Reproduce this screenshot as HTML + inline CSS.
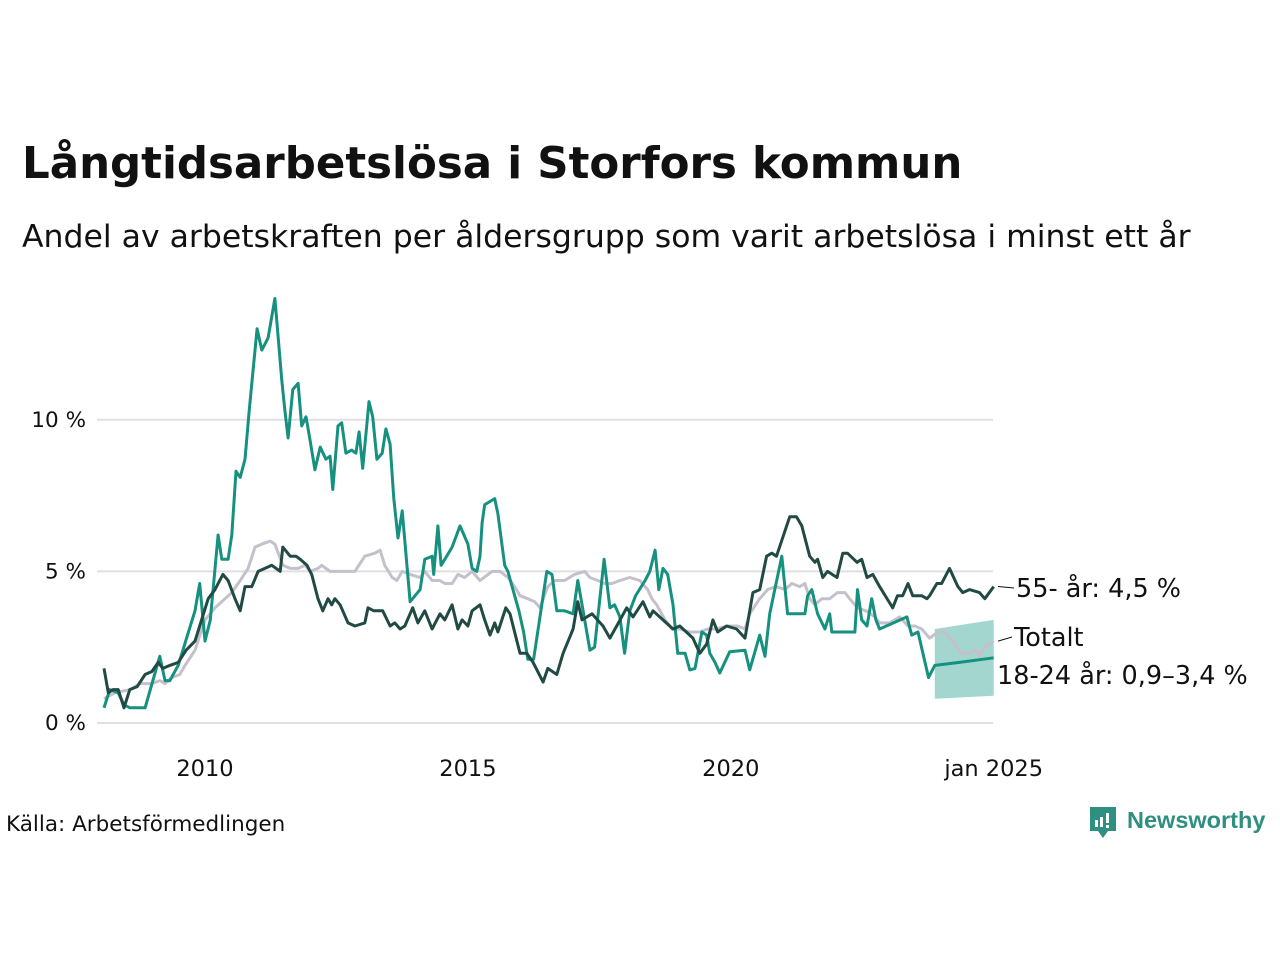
<!DOCTYPE html>
<html><head><meta charset="utf-8"><style>
body{margin:0;background:#fff;width:1280px;height:960px;overflow:hidden;font-family:"DejaVu Sans","Liberation Sans",sans-serif;}
svg{position:absolute;left:0;top:0}
</style></head><body>
<svg id="chart" width="1280" height="960">
<text x="22" y="178" font-size="43.5" font-weight="bold" fill="#111">Långtidsarbetslösa i Storfors kommun</text>
<text x="22" y="247" font-size="31.5" fill="#111">Andel av arbetskraften per åldersgrupp som varit arbetslösa i minst ett år</text>
<text x="6" y="831" font-size="21.5" fill="#111">Källa: Arbetsförmedlingen</text>
<g>
<path d="M1090 807h26v24h-8l-5 7-5-7h-8z" fill="#2f8f80"/>
<rect x="1095" y="820" width="3" height="7" fill="#fff"/><rect x="1100" y="817" width="3" height="10" fill="#fff"/><rect x="1106" y="813" width="3" height="10" fill="#fff"/><rect x="1106" y="825" width="3" height="3" fill="#fff"/>
<text x="1127" y="828" font-size="23.5" font-weight="bold" fill="#2f8f80" font-family="Liberation Sans, sans-serif">Newsworthy</text>
</g>
<g id="plot"></g>
</svg>
<script>
const ticksY=[0,5,10];
const tickYLabels=["0 %","5 %","10 %"];
const ticksX=[2010,2015,2020,2025];
const tickXLabels=["2010","2015","2020","jan 2025"];
const tealDates=[2008.08,2008.19,2008.35,2008.46,2008.57,2008.86,2009.14,2009.24,2009.33,2009.49,2009.81,2009.90,2010.00,2010.10,2010.25,2010.32,2010.44,2010.51,2010.59,2010.67,2010.76,2010.84,2010.89,2010.99,2011.08,2011.20,2011.33,2011.46,2011.52,2011.58,2011.67,2011.77,2011.84,2011.92,2012.00,2012.09,2012.19,2012.30,2012.38,2012.43,2012.53,2012.60,2012.68,2012.79,2012.87,2012.93,2013.00,2013.12,2013.19,2013.27,2013.37,2013.44,2013.52,2013.59,2013.67,2013.75,2013.90,2014.09,2014.18,2014.32,2014.35,2014.43,2014.49,2014.56,2014.70,2014.85,2015.00,2015.08,2015.17,2015.23,2015.27,2015.32,2015.51,2015.57,2015.70,2015.76,2015.84,2015.97,2016.06,2016.14,2016.25,2016.50,2016.60,2016.69,2016.84,2017.00,2017.09,2017.19,2017.32,2017.41,2017.59,2017.70,2017.79,2017.89,2017.98,2018.08,2018.19,2018.37,2018.46,2018.56,2018.63,2018.71,2018.80,2018.90,2018.99,2019.13,2019.22,2019.32,2019.45,2019.54,2019.60,2019.70,2019.79,2019.98,2020.27,2020.36,2020.55,2020.65,2020.74,2020.97,2021.08,2021.31,2021.41,2021.46,2021.54,2021.65,2021.79,2021.88,2021.92,2022.07,2022.36,2022.41,2022.49,2022.59,2022.68,2022.76,2022.83,2023.35,2023.44,2023.56,2023.76,2023.88,2024.35,2025.00];
const tealValues=[0.5,1.1,1.0,0.6,0.5,0.5,2.2,1.4,1.4,1.9,3.7,4.6,2.7,3.4,6.2,5.4,5.4,6.2,8.3,8.1,8.7,10.3,11.2,13.0,12.3,12.7,14.0,11.3,10.3,9.4,11.0,11.2,9.8,10.1,9.3,8.35,9.1,8.7,8.8,7.7,9.8,9.9,8.9,9.0,8.9,9.6,8.4,10.6,10.1,8.7,8.9,9.7,9.2,7.4,6.1,7.0,4.0,4.4,5.4,5.5,4.9,6.5,5.2,5.4,5.8,6.5,5.9,5.1,5.0,5.5,6.6,7.2,7.4,6.9,5.2,5.0,4.5,3.7,3.0,2.1,2.1,5.0,4.9,3.7,3.7,3.6,4.7,3.7,2.4,2.5,5.4,3.8,3.9,3.5,2.3,3.7,4.2,4.7,5.0,5.7,4.4,5.1,4.9,3.9,2.3,2.3,1.75,1.8,3.0,2.9,2.3,2.0,1.65,2.35,2.4,1.75,2.9,2.2,3.6,5.5,3.6,3.6,3.6,4.2,4.4,3.6,3.1,3.6,3.0,3.0,3.0,4.4,3.4,3.2,4.1,3.4,3.1,3.5,2.9,3.0,1.5,1.9,2.0,2.15];
const bandDates=[2023.88,2025.0];
const bandLower=[0.8,0.9];
const bandUpper=[3.1,3.4];
const darkDates=[2008.08,2008.16,2008.25,2008.35,2008.46,2008.57,2008.71,2008.86,2008.99,2009.11,2009.20,2009.33,2009.49,2009.64,2009.81,2009.90,2010.06,2010.19,2010.34,2010.44,2010.57,2010.67,2010.76,2010.89,2011.01,2011.14,2011.27,2011.43,2011.48,2011.62,2011.73,2011.81,2011.94,2012.03,2012.15,2012.24,2012.34,2012.41,2012.47,2012.57,2012.72,2012.85,2013.04,2013.10,2013.21,2013.38,2013.52,2013.61,2013.71,2013.80,2013.95,2014.05,2014.18,2014.32,2014.47,2014.56,2014.70,2014.81,2014.89,2015.00,2015.08,2015.23,2015.32,2015.42,2015.51,2015.57,2015.72,2015.80,2015.99,2016.12,2016.24,2016.43,2016.52,2016.69,2016.81,2017.00,2017.09,2017.17,2017.36,2017.57,2017.70,2017.83,2018.02,2018.14,2018.33,2018.46,2018.52,2018.71,2018.90,2019.03,2019.28,2019.41,2019.54,2019.66,2019.75,2019.92,2020.11,2020.27,2020.42,2020.55,2020.68,2020.78,2020.87,2021.12,2021.25,2021.35,2021.50,2021.60,2021.65,2021.75,2021.84,2022.02,2022.13,2022.22,2022.40,2022.49,2022.59,2022.70,2022.83,2023.08,2023.17,2023.27,2023.37,2023.46,2023.63,2023.73,2023.78,2023.92,2024.01,2024.16,2024.32,2024.41,2024.54,2024.73,2024.83,2025.00];
const darkValues=[1.8,1.0,1.1,1.1,0.5,1.1,1.2,1.6,1.7,2.0,1.8,1.9,2.0,2.4,2.7,3.2,4.1,4.4,4.9,4.7,4.1,3.7,4.5,4.5,5.0,5.1,5.2,5.0,5.8,5.5,5.5,5.4,5.2,4.9,4.1,3.7,4.1,3.9,4.1,3.9,3.3,3.2,3.3,3.8,3.7,3.7,3.2,3.3,3.1,3.2,3.8,3.3,3.7,3.1,3.6,3.4,3.9,3.1,3.4,3.2,3.7,3.9,3.4,2.9,3.3,3.0,3.8,3.6,2.3,2.3,2.0,1.35,1.8,1.6,2.3,3.1,4.0,3.4,3.6,3.2,2.8,3.2,3.8,3.5,4.0,3.5,3.7,3.4,3.1,3.2,2.8,2.3,2.6,3.4,3.0,3.2,3.1,2.8,4.3,4.4,5.5,5.6,5.5,6.8,6.8,6.5,5.5,5.3,5.4,4.8,5.0,4.8,5.6,5.6,5.3,5.4,4.8,4.9,4.5,3.8,4.2,4.2,4.6,4.2,4.2,4.1,4.2,4.6,4.6,5.1,4.5,4.3,4.4,4.3,4.1,4.5];
const totalDates=[2008.08,2008.29,2008.57,2008.76,2008.99,2009.14,2009.24,2009.37,2009.52,2009.62,2009.81,2010.00,2010.19,2010.38,2010.51,2010.67,2010.82,2010.95,2011.08,2011.24,2011.33,2011.48,2011.62,2011.77,2011.90,2012.00,2012.15,2012.22,2012.38,2012.66,2012.85,2013.04,2013.23,2013.33,2013.42,2013.56,2013.65,2013.75,2013.90,2014.09,2014.18,2014.32,2014.47,2014.56,2014.70,2014.81,2014.94,2015.08,2015.23,2015.46,2015.61,2015.76,2015.89,2015.99,2016.14,2016.27,2016.37,2016.52,2016.65,2016.84,2017.03,2017.22,2017.32,2017.47,2017.60,2017.74,2017.89,2018.08,2018.27,2018.42,2018.50,2018.59,2018.75,2018.88,2019.03,2019.22,2019.41,2019.56,2019.71,2019.94,2020.13,2020.27,2020.36,2020.55,2020.70,2020.86,2021.03,2021.16,2021.31,2021.41,2021.50,2021.60,2021.73,2021.88,2022.03,2022.17,2022.26,2022.41,2022.57,2022.74,2022.83,2023.02,2023.21,2023.37,2023.50,2023.63,2023.78,2023.94,2024.07,2024.26,2024.39,2024.54,2024.66,2024.73,2024.83,2025.00];
const totalValues=[0.8,1.0,1.1,1.3,1.3,1.4,1.3,1.5,1.6,1.9,2.4,3.4,3.8,4.1,4.3,4.7,5.1,5.8,5.9,6.0,5.9,5.2,5.1,5.1,5.2,5.0,5.1,5.2,5.0,5.0,5.0,5.5,5.6,5.7,5.2,4.8,4.7,5.0,4.9,4.8,5.0,4.7,4.7,4.6,4.6,4.9,4.8,5.0,4.7,5.0,5.0,4.8,4.5,4.2,4.1,4.0,3.8,4.5,4.7,4.7,4.9,5.0,4.8,4.7,4.6,4.6,4.7,4.8,4.7,4.4,4.1,3.9,3.4,3.1,3.1,3.0,3.0,3.1,3.1,3.2,3.2,3.1,3.6,4.1,4.4,4.5,4.4,4.6,4.5,4.6,4.1,3.9,4.1,4.1,4.3,4.3,4.1,3.8,3.7,3.5,3.3,3.3,3.5,3.2,3.2,3.1,2.8,3.0,3.0,2.6,2.3,2.3,2.4,2.2,2.5,2.7];

const NS='http://www.w3.org/2000/svg';
const plot=document.getElementById('plot');
const xS=d=>205+(d-2010)*52.58;
const yS=v=>723-v*30.32;
function mk(tag,attrs){const e=document.createElementNS(NS,tag);for(const k in attrs)e.setAttribute(k,attrs[k]);plot.appendChild(e);return e;}
ticksY.forEach((t,i)=>{
  const l=mk('line',{x1:97,x2:993,y1:yS(t),y2:yS(t),stroke:'#e1dfe3','stroke-width':2});
  
  
  const tx=mk('text',{x:86,y:yS(t)+7,'font-size':21.5,'text-anchor':'end',fill:'#111'});
  tx.textContent=tickYLabels[i];
  
  
});
ticksX.forEach((t,i)=>{
  const tx=mk('text',{x:xS(t),y:776,'font-size':22.5,'text-anchor':'middle',fill:'#111'});
  tx.textContent=tickXLabels[i];
  
  
});
function pts(ds,vs){return ds.map((d,i)=>xS(d).toFixed(1)+','+yS(vs[i]).toFixed(1)).join(' ');}
const band=mk('polygon',{points:pts(bandDates,bandUpper)+' '+pts(bandDates.slice().reverse(),bandLower.slice().reverse()),fill:'#a3d6cf'});


const lt=mk('polyline',{points:pts(totalDates,totalValues),fill:'none',stroke:'#c4c0cc','stroke-width':3,'stroke-linejoin':'round'});


const l1=mk('polyline',{points:pts(tealDates,tealValues),fill:'none',stroke:'#16917f','stroke-width':3,'stroke-linejoin':'round'});


const l2=mk('polyline',{points:pts(darkDates,darkValues),fill:'none',stroke:'#214a44','stroke-width':3,'stroke-linejoin':'round'});


const labels=[["55- år: 4,5 %",1016,597,darkValues[darkValues.length-1]],["Totalt",1014,646,totalValues[totalValues.length-1]],["18-24 år: 0,9–3,4 %",997,684,null]];
labels.forEach(a=>{
  const t=mk('text',{x:a[1],y:a[2],'font-size':25.5,fill:'#111'});
  t.textContent=a[0];
  
  
  if(a[3]!==null){
    const c=mk('line',{x1:998,y1:yS(a[3]),x2:a[1]-2,y2:a[2]-9,stroke:'#111','stroke-width':1});
    
    
  }
});
</script>
</body></html>
